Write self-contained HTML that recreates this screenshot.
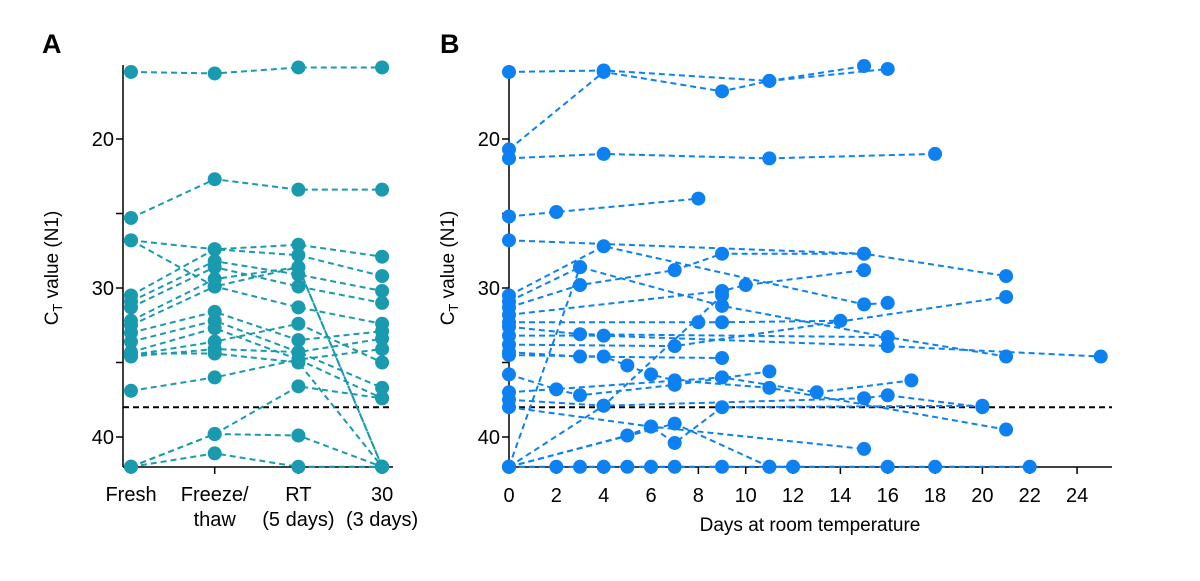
<!DOCTYPE html>
<html><head><meta charset="utf-8"><style>
body{margin:0;background:#fff;}
svg text{font-family:"Liberation Sans",Arial,sans-serif;fill:#000;}
</style></head><body>
<svg id="chart" width="1200" height="576" viewBox="0 0 1200 576" xmlns="http://www.w3.org/2000/svg">
<g id="panelA"></g>
<g id="panelB"></g>
</svg>
<script>
const yTicks=[20,25,30,35,40];
const yTickLabels=["20","","30","","40"];
const threshold=38;
const catsA=["Fresh","Freeze/|thaw","RT|(5 days)","30|(3 days)"];
const seriesA=[
[15.5,15.6,15.2,15.2],[25.3,22.7,23.4,23.4],[26.8,27.4,27.1,27.9],[26.8,29.9,28.6,42],
[30.5,27.4,27.8,29.2],[30.9,28.2,29.1,30.2],[31.3,28.6,29.9,31.0],[32.2,29.4,28.6,42],
[32.5,29.9,31.3,32.4],[33.0,31.6,33.5,32.9],[33.6,32.2,34.3,33.4],[34.3,32.7,34.8,34.1],
[34.5,33.6,32.4,35.0],[34.6,34.1,34.3,36.7],[36.9,36.0,34.8,37.4],[42,39.8,36.6,37.4],
[42,39.8,39.9,42],[42,41.1,42,42],[34.4,34.4,35.0,42]];
const xTicksB=[0,2,4,6,8,10,12,14,16,18,20,22,24];
const seriesB=[
[[0,15.5],[4,15.4],[11,16.1],[16,15.3]],
[[0,20.7],[4,15.5],[9,16.8],[11,16.1],[15,15.1]],
[[0,21.3],[4,21.0],[11,21.3],[18,21.0]],
[[0,25.2],[2,24.9],[8,24.0]],
[[0,26.8],[15,27.7],[21,29.2]],
[[0,30.5],[4,27.2],[15,31.1],[16,31.0]],
[[0,30.9],[3,28.6],[9,31.2],[16,33.3],[21,34.6]],
[[0,31.3],[3,29.8],[7,28.8],[9,27.7],[15,27.7]],
[[0,31.8],[9,30.2],[10,29.8],[15,28.8]],
[[0,32.3],[8,32.3],[9,32.3],[14,32.2]],
[[0,32.6],[3,33.1],[16,33.3]],
[[0,33.2],[4,33.2],[16,33.9],[25,34.6]],
[[0,33.8],[7,33.9],[21,30.6]],
[[0,34.3],[3,34.6],[9,34.7]],
[[0,34.5],[4,34.6],[5,35.2],[6,35.8],[7,36.2],[11,36.7],[21,39.5]],
[[0,35.8],[2,36.8],[3,37.2],[7,36.5],[11,35.6]],
[[0,37.0],[9,36.0],[13,37.0],[17,36.2]],
[[0,37.5],[4,37.9],[15,37.4],[16,37.2],[20,38.0]],
[[0,38.0],[6,39.3],[15,40.8]],
[[0,42],[5,39.9],[6,39.3],[7,40.4],[9,38.0],[20,37.9]],
[[0,42],[7,39.1],[11,42],[12,42]],
[[0,42],[3,28.6]],
[[0,42],[4,37.9],[9,30.5]],
[[0,42],[2,42],[3,42],[4,42],[5,42],[6,42],[7,42],[9,42],[11,42],[12,42],[16,42],[18,42],[22,42]]];

const NS="http://www.w3.org/2000/svg";
function mk(tag,attrs,parent){const e=document.createElementNS(NS,tag);for(const k in attrs)e.setAttribute(k,attrs[k]);parent.appendChild(e);return e;}
const yS=v=>139+(v-20)*14.9;
const xA=i=>131+i*83.7;
const xB=d=>509+d*23.67;

function yAxis(g,x0,x1,titleX,name){
  const ax=mk('line',{x1:x0,y1:65,x2:x0,y2:467,stroke:'#000','stroke-width':1.5},g);
  
  
  const xl=mk('line',{x1:x0,y1:467,x2:x1,y2:467,stroke:'#000','stroke-width':1.5},g);
  
  
  yTicks.forEach((t,i)=>{
    const tk=mk('line',{x1:x0-7,y1:yS(t),x2:x0,y2:yS(t),stroke:'#000','stroke-width':1.5},g);
    
    
    if(yTickLabels[i]){const tl=mk('text',{x:x0-9,y:yS(t)+7,'text-anchor':'end','font-size':20},g);tl.textContent=yTickLabels[i];
    
    }
  });
  const tt=mk('text',{transform:`translate(${titleX},268) rotate(-90)`,'text-anchor':'middle','font-size':19},g);
  
  
  tt.innerHTML='C<tspan font-size="13" dy="4">T</tspan><tspan dy="-4"> value (N1)</tspan>';
  const th=mk('line',{x1:x0,y1:yS(threshold),x2:x1,y2:yS(threshold),stroke:'#000','stroke-width':2,'stroke-dasharray':'6,4'},g);
  
  
}
function series(g,pts,color,name){
  const l=mk('polyline',{points:pts.map(p=>p.join(',')).join(' '),fill:'none',stroke:color,'stroke-width':2,'stroke-dasharray':'6,4'},g);
  
  
  pts.forEach(p=>{const c=mk('circle',{cx:p[0],cy:p[1],r:7,fill:color},g);
  
  });
}
// Panel A
const gA=document.getElementById('panelA');
const lA=mk('text',{x:42,y:53,'font-size':27,'font-weight':'bold'},gA);lA.textContent='A';


yAxis(gA,123,393,58,'panel-a');
catsA.forEach((c,i)=>{
  const tk=mk('line',{x1:xA(i),y1:467,x2:xA(i),y2:474,stroke:'#000','stroke-width':1.5},gA);
  
  
  c.split('|').forEach((s,j)=>{const t=mk('text',{x:xA(i),y:501+j*25,'text-anchor':'middle','font-size':20},gA);t.textContent=s;
  
  });
});
seriesA.forEach(s=>series(gA,s.map((v,i)=>[xA(i),yS(v)]),'#1a9aaf','panel-a-series'));
// Panel B
const gB=document.getElementById('panelB');
const lB=mk('text',{x:440,y:53,'font-size':27,'font-weight':'bold'},gB);lB.textContent='B';


yAxis(gB,509,1112,454,'panel-b');
xTicksB.forEach(d=>{
  const tk=mk('line',{x1:xB(d),y1:467,x2:xB(d),y2:474,stroke:'#000','stroke-width':1.5},gB);
  
  
  const t=mk('text',{x:xB(d),y:502,'text-anchor':'middle','font-size':20},gB);t.textContent=d;
  
  
});
const xt=mk('text',{x:810,y:531,'text-anchor':'middle','font-size':19},gB);xt.textContent='Days at room temperature';


seriesB.forEach(s=>series(gB,s.map(p=>[xB(p[0]),yS(p[1])]),'#0d80f2','panel-b-series'));
</script>
</body></html>
